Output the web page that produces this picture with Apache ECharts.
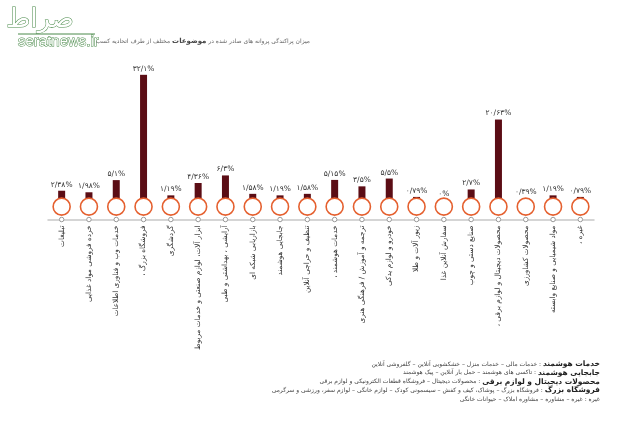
<!DOCTYPE html>
<html><head><meta charset="utf-8">
<script src="https://cdn.jsdelivr.net/npm/echarts@6/dist/echarts.min.js"></script>
<style>html,body{margin:0;padding:0;background:#fff}#c{width:640px;height:448px}</style>
</head><body><div id="c"></div>
<script>
const categories = [
  'تبلیغات',
  'خرده فروشی مواد غذایی',
  'خدمات وب و فناوری اطلاعات',
  'فروشگاه بزرگ ،\u200F',
  'گردشگری',
  'ابزار آلات، لوازم صنعتی و خدمات مربوط',
  'آرایشی ، بهداشتی و طبی',
  'بازاریابی شبکه ای',
  'جابجایی هوشمند',
  'تنظیف و حراجی آنلاین',
  'خدمات هوشمند ،\u200F',
  'ترجمه و آموزش / فرهنگی هنری',
  'خودرو و لوازم یدکی',
  'زیور آلات و طلا',
  'سفارش آنلاین غذا',
  'صنایع دستی و چوب',
  'محصولات دیجیتال و لوازم برقی ،\u200F',
  'محصولات کشاورزی',
  'مواد شیمیایی و صنایع وابسته',
  'غیره ،\u200F'
];
const values = [2.38, 1.98, 5.1, 32.1, 1.19, 4.36, 6.3, 1.58, 1.19, 1.58, 5.15, 3.5, 5.5, 0.79, 0, 2.7, 20.63, 0.39, 1.19, 0.79];

const titleParts = ['میزان پراکندگی پروانه های صادر شده در', 'موضوعات', 'مختلف از طرف اتحادیه کسب'];
const noteHeads = ['خدمات هوشمند', 'جابجایی هوشمند', 'محصولات دیجیتال و لوازم برقی', 'فروشگاه بزرگ', 'غیره'];
const noteBodies = [
  'خدمات مالی – خدمات منزل – خشکشویی آنلاین – گلفروشی آنلاین',
  'تاکسی های هوشمند – حمل بار آنلاین – پیک هوشمند',
  'محصولات دیجیتال – فروشگاه قطعات الکترونیکی و لوازم برقی',
  'فروشگاه بزرگ – پوشاک، کیف و کفش – سیسمونی کودک – لوازم خانگی – لوازم سفر، ورزشی و سرگرمی',
  'غیره – مشاوره – مشاوره املاک – حیوانات خانگی'
];

const FA = '۰۱۲۳۴۵۶۷۸۹';
function toFa(v){ return String(v).replace('.', '/').replace(/\d/g, d => FA[d]) + '%'; }

const FONT = '"DejaVu Sans", sans-serif';
const chart = echarts.init(document.getElementById('c'));

const notes = noteHeads.map((h, i) => ({
  type: 'text', x: 600, y: 364 + i * 8.8,
  style: {
    text: '{r|' + noteBodies[i] + '}{r| : }{' + (i === 4 ? 'r' : 'b') + '|' + h + '}',
    align: 'right', verticalAlign: 'middle',
    rich: {
      r: { fontSize: 6, fill: '#444', fontFamily: FONT },
      b: { fontSize: 7.5, fill: '#222', fontWeight: 'bold', fontFamily: FONT }
    }
  }
}));

chart.setOption({
  animation: false,
  backgroundColor: '#fff',
  grid: { left: 48, right: 46, top: 44, bottom: 228.5 },
  xAxis: {
    type: 'category', data: categories,
    axisLine: { onZero: false, lineStyle: { color: '#c8c8c8', width: 1.5 } },
    axisTick: { show: false },
    axisLabel: { rotate: 90, interval: 0, margin: 6, fontSize: 7.3, color: '#333', fontFamily: FONT }
  },
  yAxis: { type: 'value', min: -5, max: 40, show: false, splitLine: { show: false } },
  series: [
    {
      type: 'bar', data: values, barWidth: 7, z: 2,
      itemStyle: { color: '#5b0d15' },
      label: { show: true, position: 'top', distance: 2, fontSize: 7.5, color: '#333', fontFamily: FONT,
        formatter: p => toFa(p.value) }
    },
    {
      type: 'scatter', data: values.map(() => -1.7), symbolSize: 17, z: 3, silent: true, clip: false,
      itemStyle: { color: '#fff', borderColor: '#e5602f', borderWidth: 1.6, opacity: 1 }
    },
    {
      type: 'scatter', data: values.map(() => -5), symbolSize: 4.5, z: 4, silent: true, clip: false,
      itemStyle: { color: '#fff', borderColor: '#9a9a9a', borderWidth: 1, opacity: 1 }
    }
  ],
  graphic: [
    { type: 'text', x: 40, y: 20, style: { text: 'صراط', fontSize: 26, fontFamily: FONT, fill: '#fff', stroke: '#4a8a4a', lineWidth: 1, align: 'center', verticalAlign: 'middle' } },
    { type: 'line', shape: { x1: 18, y1: 34, x2: 95, y2: 34 }, style: { stroke: '#4a8a4a', lineWidth: 1 } },
    { type: 'text', x: 18, y: 42, style: { text: 'seratnews.ir', fontSize: 15, fontFamily: '"Liberation Sans", sans-serif', fill: '#fff', stroke: '#4a8a4a', lineWidth: 1, verticalAlign: 'middle' } },
    {
      type: 'text', x: 310, y: 41,
      style: {
        text: '{r|' + titleParts[2] + '}{r| }{b|' + titleParts[1] + '}{r| }{r|' + titleParts[0] + '}',
        align: 'right', verticalAlign: 'middle',
        rich: {
          r: { fontSize: 6, fill: '#666', fontFamily: FONT },
          b: { fontSize: 7, fill: '#444', fontWeight: 'bold', fontFamily: FONT }
        }
      }
    }
  ].concat(notes)
});
</script></body></html>
